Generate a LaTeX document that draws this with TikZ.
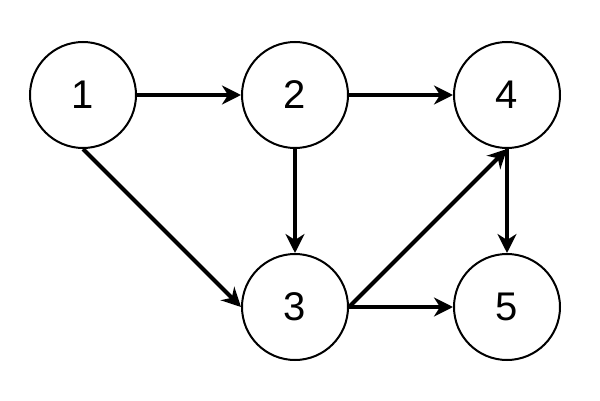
\documentclass[tikz,border=0pt]{standalone}
\usepackage{fontspec}
\setmainfont{Liberation Sans}
\usetikzlibrary{arrows.meta}
\begin{document}
\begin{tikzpicture}[x=1pt,y=1pt,
  vertex/.style={circle,draw=black,line width=2pt,minimum size=106pt,inner sep=0pt,font=\fontsize{40}{42}\selectfont},
  edge/.style={line width=4pt,-{Stealth[length=19pt,width=19pt,inset=6pt]}}]
\useasboundingbox (0,0) rectangle (600,400);
\node[vertex] (n1) at (83,305) {1};
\node[vertex] (n2) at (295,305) {2};
\node[vertex] (n4) at (507,305) {4};
\node[vertex] (n3) at (295,93) {3};
\node[vertex] (n5) at (507,93) {5};
\draw[edge] (n1.east) -- (n2.west);
\draw[edge] (n2.east) -- (n4.west);
\draw[edge] (n2.south) -- (n3.north);
\draw[edge] (n4.south) -- (n5.north);
\draw[edge] (n1.south) -- (n3.west);
\draw[edge] (n3.east) -- (n4.south);
\draw[edge] (n3.east) -- (n5.west);
\end{tikzpicture}
\end{document}
